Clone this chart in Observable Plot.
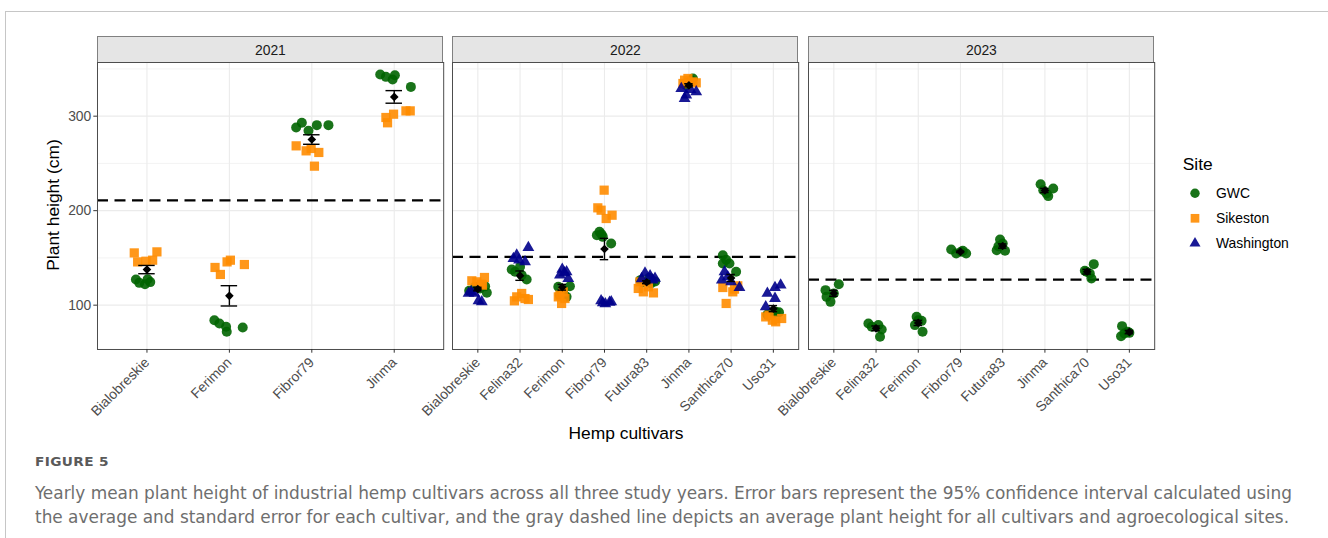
<!DOCTYPE html>
<html>
<head>
<meta charset="utf-8">
<script src="https://cdn.jsdelivr.net/npm/d3@7"></script>
<script src="https://cdn.jsdelivr.net/npm/@observablehq/plot@0.6"></script>
<style>
  body { margin: 0; background: #fff; }
  #fig { position: relative; width: 1328px; height: 538px; overflow: hidden;
         font-family: "Liberation Sans", Arial, Helvetica, sans-serif; }
  .box-l { position: absolute; left: 5px; top: 11px; bottom: 0; border-left: 1px solid #c6c6c6; }
  .box-t { position: absolute; left: 5px; top: 11px; right: 0; border-top: 1px solid #c6c6c6; }
  .strip { position: absolute; box-sizing: border-box; background: #e5e5e5;
           border: 1px solid #808080; border-bottom: none; font-size: 13.9px;
           color: #1a1a1a; text-align: center; }
  .strip span { position: absolute; left: 0; right: 0; top: 50%; transform: translateY(-50%); }
  .title { position: absolute; white-space: nowrap; font-size: 17.4px; color: #000; }
  .cap { position: absolute; left: 35px; white-space: nowrap; transform-origin: 0 50%;
         font-family: "Liberation Sans Narrow", "DejaVu Sans Condensed", "Open Sans", sans-serif; }
  .cap-head { font-size: 12px; font-weight: bold; color: #5a5a5a; letter-spacing: 0.3px; }
  .cap-line { font-size: 18.5px; color: #6e6e6e; }
</style>
</head>
<body>
<div id="fig">
  <div class="box-l"></div>
  <div class="box-t"></div>
</div>
<script>
// ---- data -------------------------------------------------------------
const years = [2021, 2022, 2023];
const sites = ["GWC", "Sikeston", "Washington"];
const siteColors = ["darkgreen", "darkorange", "darkblue"];

const cultivars2021 = ["Bialobreskie", "Ferimon", "Fibror79", "Jinma"];
const cultivars2022 = ["Bialobreskie", "Felina32", "Ferimon", "Fibror79", "Futura83", "Jinma", "Santhica70", "Uso31"];
const cultivars2023 = ["Bialobreskie", "Felina32", "Ferimon", "Fibror79", "Futura83", "Jinma", "Santhica70", "Uso31"];

// plant heights (cm), one inner list per cultivar; *Jit = horizontal jitter (fraction of a category)
const gwc2021 = [
  [127.2, 123.6, 122.2, 124.4, 127.5],
  [84.1, 80.6, 77.1, 71.8, 76.4],
  [288, 293, 284.5, 290.5, 290.5],
  [344.1, 341.6, 338.8, 343.4, 331]
];
const gwc2021Jit = [
  [-0.134, -0.093, -0.024, 0.04, 0.008],
  [-0.182, -0.121, -0.04, -0.032, 0.162],
  [-0.19, -0.121, -0.04, 0.061, 0.202],
  [-0.17, -0.101, -0.02, 0.008, 0.202]
];
const sik2021 = [
  [155.3, 145.8, 146.5, 147.6, 156.4],
  [139.9, 132.5, 145.8, 147.6, 143],
  [268.6, 263.3, 265.8, 261.6, 247.1],
  [298.6, 293, 302.1, 305.6, 305.6]
];
const sik2021Jit = [
  [-0.154, -0.113, -0.012, 0.069, 0.121],
  [-0.174, -0.109, -0.028, 0.012, 0.182],
  [-0.19, -0.069, -0.008, 0.085, 0.032],
  [-0.101, -0.081, -0.008, 0.142, 0.194]
];

const gwc2022 = [
  [115.2, 119.4, 117.7, 120.1, 113.1],
  [137.8, 135.3, 140.6, 131.8, 127.2],
  [119.4, 110.6, 115.9, 108.8, 120.1],
  [177.6, 174.1, 172.3, 165.3, 175],
  [129, 125, 124, 126.5, 123],
  [339.9, 336.3, 332.8, 338.1, 334.6],
  [152.9, 144.1, 144.1, 135.3, 148],
  [93, 91, 92.5, 90, 91.5]
];
const gwc2022Jit = [
  [-0.205, -0.063, 0.055, 0.173, 0.213],
  [-0.197, -0.118, 0, 0.039, 0.157],
  [-0.094, -0.055, 0.024, 0.102, 0.181],
  [-0.118, -0.18, -0.04, 0.158, -0.07],
  [0.06, 0.2, -0.1, -0.15, 0.1],
  [0.094, 0.016, -0.063, 0.055, -0.024],
  [-0.197, -0.197, -0.04, 0.118, -0.118],
  [0.055, -0.063, 0.134, -0.142, 0]
];
const sik2022 = [
  [125.8, 124.7, 122.2, 129.3, 121.2],
  [104.6, 108.8, 112.4, 107, 106],
  [108.8, 110.6, 101.8, 114.1, 107],
  [221.7, 203, 200.5, 191.7, 195.2],
  [124.7, 114.1, 113, 117.7, 119.4],
  [338.1, 335.3, 339.9, 336.3, 334.6],
  [101.8, 114.1, 118.7, 120.5, 117],
  [87.6, 84.1, 85.9, 89.4, 82.4]
];
const sik2022Jit = [
  [-0.142, -0.024, 0.079, 0.157, 0.11],
  [-0.134, -0.079, 0.039, 0.118, 0.197],
  [-0.094, -0.055, -0.016, 0.024, 0.063],
  [-0.008, -0.158, -0.08, 0.04, 0.18],
  [-0.16, -0.08, 0.16, -0.2, 0.04],
  [-0.102, 0.173, -0.024, 0.094, -0.142],
  [-0.118, 0.039, -0.197, 0.157, 0.079],
  [-0.181, -0.024, 0.197, -0.102, 0.055]
];
const was2022 = [
  [112.4, 114.1, 112.4, 104.6, 103.5],
  [149.4, 152.9, 147.6, 145.9, 161],
  [131.8, 137.8, 134.2, 135.3, 128.2],
  [104.5, 103, 101.5, 102.5, 103.5],
  [134, 128.5, 128, 131, 126.5],
  [318.7, 322.2, 325.7, 329.3, 328.2],
  [135.3, 126.5, 124.7, 118.7, 130],
  [121.2, 118.7, 112.4, 107.1, 98.2]
];
const was2022Jit = [
  [-0.22, -0.157, -0.079, 0.016, 0.094],
  [-0.157, -0.079, -0.024, 0.118, 0.197],
  [-0.055, 0, 0.047, 0.102, 0.142],
  [-0.08, 0.12, 0.02, -0.04, 0.16],
  [-0.04, 0.197, -0.12, 0.08, 0.14],
  [-0.102, -0.063, 0.173, -0.181, 0.039],
  [-0.157, -0.22, 0, 0.197, -0.079],
  [0.173, 0.039, -0.142, 0.039, -0.181]
];

const gwc2023 = [
  [115.9, 122.2, 108.8, 103.5, 112.4],
  [80.6, 78.9, 74.3, 66.5, 77.1],
  [87.7, 83.4, 78.9, 71.8, 84.1],
  [158.9, 154.7, 154.7, 156.5, 157.5],
  [169.5, 158.2, 157.5, 162.4, 165.3],
  [228, 223.5, 215.4, 218.2, 221.7],
  [136.4, 143.4, 128.2, 135.3, 133.5],
  [77.8, 67.2, 71.8, 70, 70.7]
];
const gwc2023Jit = [
  [-0.197, 0.118, -0.173, -0.079, 0],
  [-0.181, 0.055, 0.134, 0.094, -0.102],
  [-0.039, 0.079, -0.079, 0.102, 0],
  [-0.22, -0.102, 0.134, 0.016, 0.055],
  [-0.063, -0.142, 0.055, -0.102, 0],
  [-0.102, 0.197, 0.079, 0.039, -0.039],
  [-0.055, 0.157, 0.102, -0.016, 0.063],
  [-0.173, -0.197, -0.039, -0.118, 0]
];

const yTicks = [100, 200, 300];
const yMinor = [150, 250, 350];

// ---- layout -----------------------------------------------------------
const fig = document.getElementById("fig");
const font = '"Liberation Sans", Arial, Helvetica, sans-serif';
const panelW = 346.2, panelH = 287, panelTop = 62.3;
const panelLefts = [97.3, 452.3, 808.3];
const yDomain = [53.1, 356.8];
const symbolOf = {GWC: "circle", Sikeston: "square", Washington: "triangle"};
const radiusOf = {GWC: 5, Sikeston: 5.2, Washington: 4.4};

function flatten(site, heights, jitter) {
  const out = [];
  heights.forEach((list, ci) => list.forEach((h, k) => out.push({site, ci, h, xj: ci + jitter[ci][k]})));
  return out;
}

function panel(year, names, points, left, withY) {
  const n = names.length;
  const mL = withY ? 70 : 12, mR = 12, mT = 14, mB = 110;
  // per-cultivar mean ± standard error
  const summary = d3.range(n).map(ci => {
    const v = points.filter(p => p.ci === ci).map(p => p.h);
    const m = d3.mean(v), se = d3.deviation(v) / Math.sqrt(v.length);
    return {ci, m, lo: m - se, hi: m + se};
  });
  const overall = d3.mean(points, p => p.h);
  const grid = {stroke: "#ebebeb", strokeOpacity: 1};
  const dots = sites.map((s, i) => Plot.dot(points.filter(p => p.site === s), {
    x: "xj", y: "h", symbol: symbolOf[s], r: radiusOf[s], fill: siteColors[i], fillOpacity: 0.9
  }));
  const chart = Plot.plot({
    width: panelW + mL + mR, height: panelH + mT + mB,
    marginLeft: mL, marginRight: mR, marginTop: mT, marginBottom: mB,
    x: {type: "linear", domain: [-0.6, n - 0.4]},
    y: {type: "linear", domain: yDomain, axis: withY ? undefined : null},
    style: {background: "transparent", overflow: "visible", fontFamily: font},
    marks: [
      Plot.gridY(yMinor, {...grid, strokeWidth: 0.6}),
      Plot.gridY(yTicks, {...grid, strokeWidth: 1.1}),
      Plot.gridX(d3.range(n), {...grid, strokeWidth: 1.1}),
      Plot.ruleY([overall], {stroke: "black", strokeWidth: 2.2, strokeDasharray: "11,6.5"}),
      ...dots,
      Plot.ruleX(summary, {x: "ci", y1: "lo", y2: "hi", stroke: "black", strokeWidth: 1.4}),
      Plot.ruleY(summary, {y: "lo", x1: d => d.ci - 0.1, x2: d => d.ci + 0.1, stroke: "black", strokeWidth: 1.4}),
      Plot.ruleY(summary, {y: "hi", x1: d => d.ci - 0.1, x2: d => d.ci + 0.1, stroke: "black", strokeWidth: 1.4}),
      Plot.dot(summary, {x: "ci", y: "m", symbol: "diamond2", r: 3.9, fill: "black"}),
      Plot.frame({stroke: "#4d4d4d", strokeWidth: 1}),
      Plot.axisX(d3.range(n), {
        tickFormat: i => names[i], tickRotate: -45, tickSize: 3.7, tickPadding: 7,
        fontSize: 13.9, stroke: "#333", fill: "#4d4d4d", label: null
      }),
      ...(withY ? [Plot.axisY(yTicks, {
        tickSize: 3.7, tickPadding: 2.5, fontSize: 13.9, stroke: "#333", fill: "#4d4d4d", label: null
      })] : [])
    ]
  });
  chart.style.position = "absolute";
  chart.style.left = (left - mL) + "px";
  chart.style.top = (panelTop - mT) + "px";
  fig.appendChild(chart);

  const strip = document.createElement("div");
  strip.className = "strip";
  strip.style.left = left + "px";
  strip.style.top = "36px";
  strip.style.width = panelW + "px";
  strip.style.height = (panelTop - 36) + "px";
  strip.innerHTML = `<span>${year}</span>`;
  fig.appendChild(strip);
}

panel(years[0], cultivars2021,
  [...flatten("GWC", gwc2021, gwc2021Jit), ...flatten("Sikeston", sik2021, sik2021Jit)],
  panelLefts[0], true);
panel(years[1], cultivars2022,
  [...flatten("GWC", gwc2022, gwc2022Jit), ...flatten("Sikeston", sik2022, sik2022Jit),
   ...flatten("Washington", was2022, was2022Jit)],
  panelLefts[1], false);
panel(years[2], cultivars2023, flatten("GWC", gwc2023, gwc2023Jit), panelLefts[2], false);

// axis titles
function addText(cls, text, x, y, extra) {
  const d = document.createElement("div");
  d.className = cls;
  d.textContent = text;
  d.style.left = x + "px";
  d.style.top = y + "px";
  d.style.transform = "translate(-50%, -50%)" + (extra || "");
  fig.appendChild(d);
  return d;
}
addText("title", "Hemp cultivars", 626, 433);
addText("title", "Plant height (cm)", 53, 205, " rotate(-90deg)");

// legend
const leg = d3.select(fig).append("svg")
  .attr("width", 168).attr("height", 110)
  .style("position", "absolute").style("left", "1160px").style("top", "150px")
  .style("font-family", font);
leg.append("text").attr("x", 22.7).attr("y", 14).attr("dy", "0.35em")
  .attr("font-size", 17.4).attr("fill", "#000").text("Site");
const symType = {GWC: d3.symbolCircle, Sikeston: d3.symbolSquare, Washington: d3.symbolTriangle};
sites.forEach((s, i) => {
  const cy = 43.3 + i * 25;
  const r = radiusOf[s] - 0.3;
  leg.append("path")
    .attr("transform", `translate(35,${cy})`)
    .attr("d", d3.symbol(symType[s], Math.PI * r * r)())
    .attr("fill", siteColors[i]).attr("fill-opacity", 0.9);
  leg.append("text").attr("x", 56).attr("y", cy).attr("dy", "0.35em")
    .attr("font-size", 13.9).attr("fill", "#000").text(s);
});

// caption
const captionHead = "FIGURE 5";
const captionLines = [
  "Yearly mean plant height of industrial hemp cultivars across all three study years. Error bars represent the 95% confidence interval calculated using",
  "the average and standard error for each cultivar, and the gray dashed line depicts an average plant height for all cultivars and agroecological sites."
];
function addCap(cls, text, centerY, targetWidth) {
  const d = document.createElement("div");
  d.className = "cap " + cls;
  d.textContent = text;
  fig.appendChild(d);
  const h = d.offsetHeight;
  d.style.top = (centerY - h / 2) + "px";
  if (targetWidth) {
    const w = d.getBoundingClientRect().width;
    d.style.transform = `scaleX(${targetWidth / w})`;
  }
}
addCap("cap-head", captionHead, 462, 74);
addCap("cap-line", captionLines[0], 492, 1257);
addCap("cap-line", captionLines[1], 516, 1254);
</script>
</body>
</html>
